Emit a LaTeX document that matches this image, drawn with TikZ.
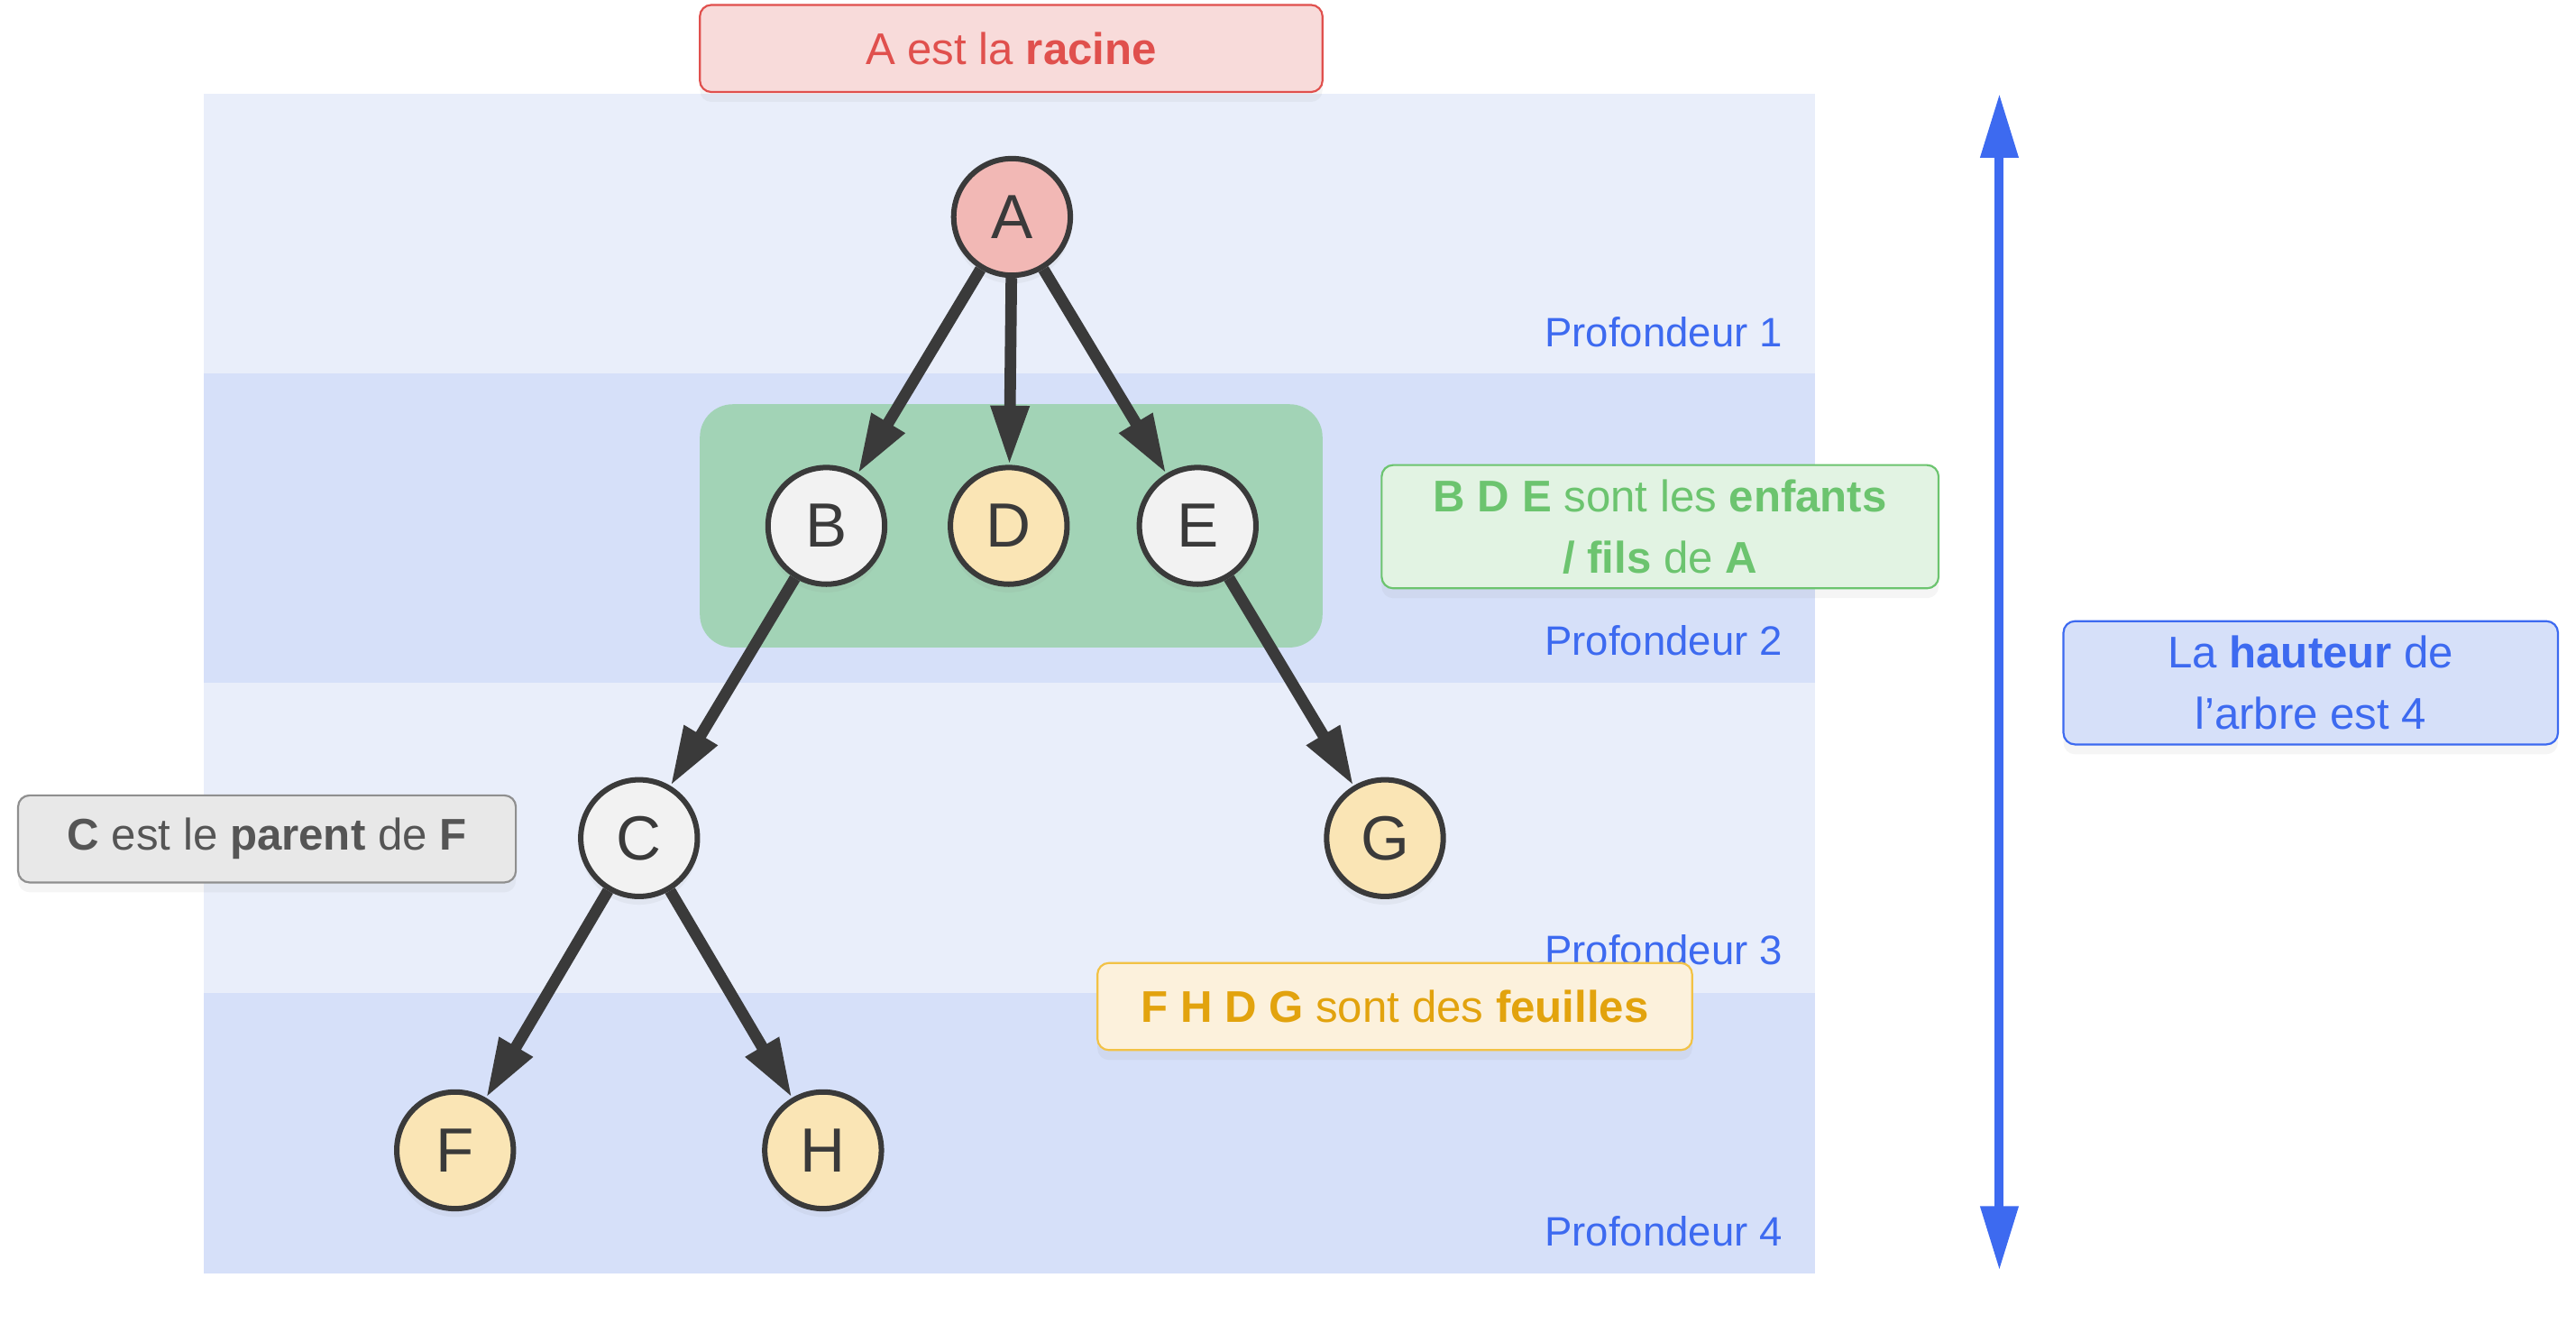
\documentclass[tikz,border=0pt]{standalone}
\usepackage{fontspec}
\setmainfont{Liberation Sans}
\usetikzlibrary{arrows.meta, shadows, positioning}
\definecolor{clair}{HTML}{E9EEFA}
\definecolor{fonce}{HTML}{D6E0F9}
\definecolor{trait}{HTML}{3A3A3A}
\definecolor{bleu}{HTML}{3D6AF0}
\definecolor{rrouge}{HTML}{E0504D}
\definecolor{rose}{HTML}{F8DBDA}
\definecolor{racinefill}{HTML}{F2B8B5}
\definecolor{blanc}{HTML}{F2F2F2}
\definecolor{jaune}{HTML}{FAE5B5}
\definecolor{vvert}{HTML}{6CC46F}
\definecolor{vertpale}{HTML}{E2F3E3}
\definecolor{groupe}{HTML}{A2D3B6}
\definecolor{gris}{HTML}{8F8F8F}
\definecolor{grispale}{HTML}{E8E8E8}
\definecolor{gristexte}{HTML}{555555}
\definecolor{orange}{HTML}{F2C245}
\definecolor{orangepale}{HTML}{FCF1DC}
\definecolor{orangetexte}{HTML}{E2A30E}
\newcommand\bande[3]{\fill[#3] (124,#1) rectangle (1105,#2);}
\newcommand\sommet[4]{\node[noeud, fill=#4] (#3) at (#1,#2) {#3};}
\tikzset{
	noeud/.style={circle, draw=trait, line width=3.3pt, minimum size=71pt, inner sep=0pt, text=trait, font=\fontsize{38}{44}\selectfont, drop shadow={opacity=0.08, shadow xshift=0pt, shadow yshift=-5pt}},
	fleche/.style={draw=trait, line width=7pt, -{Triangle[length=36pt, width=22pt]}},
	prof/.style={anchor=east, inner sep=0pt, text=bleu, font=\fontsize{25}{30}\selectfont},
	bulle/.style={rounded corners=7pt, line width=1.2pt, align=center, inner sep=0pt, font=\fontsize{27}{37}\selectfont, drop shadow={opacity=0.08, shadow xshift=0pt, shadow yshift=-6pt}}
}
\begin{document}
\begin{tikzpicture}[x=1pt, y=-1pt]
	\useasboundingbox (0,0) rectangle (1568,811);
	\bande{57}{227}{clair}
	\bande{227}{415.5}{fonce}
	\bande{415.5}{604}{clair}
	\bande{604}{775}{fonce}
	\node[prof] (p1) at (1085,202) {Profondeur 1};
	\node[prof] (p2) at (1085,390) {Profondeur 2};
	\node[prof] (p3) at (1085,578) {Profondeur 3};
	\node[prof] (p4) at (1085,749) {Profondeur 4};
	\fill[groupe, rounded corners=20pt] (426,246) rectangle (805,394);
	\sommet{616}{132}{A}{racinefill}
	\sommet{503}{320}{B}{blanc}
	\sommet{614}{320}{D}{jaune}
	\sommet{729}{320}{E}{blanc}
	\sommet{389}{510}{C}{blanc}
	\sommet{843}{510}{G}{jaune}
	\sommet{277}{700}{F}{jaune}
	\sommet{501}{700}{H}{jaune}
	\draw[fleche] (A) -- (B);
	\draw[fleche] (A) -- (D);
	\draw[fleche] (A) -- (E);
	\draw[fleche] (B) -- (C);
	\draw[fleche] (E) -- (G);
	\draw[fleche] (C) -- (F);
	\draw[fleche] (C) -- (H);
	\node[bulle, draw=rrouge, fill=rose, text=rrouge, minimum width=379pt, minimum height=53pt] (racine) at (615.5,29.5) {A est la \textbf{racine}};
	\node[bulle, draw=vvert, fill=vertpale, text=vvert, minimum width=339pt, minimum height=75pt] (enfants) at (1010.5,320.5) {\textbf{B D E} sont les \textbf{enfants}\\\textbf{/ fils} de \textbf{A}};
	\node[bulle, draw=gris, fill=grispale, text=gristexte, minimum width=303pt, minimum height=53pt] (parent) at (162.5,510.5) {\textbf{C} est le \textbf{parent} de \textbf{F}};
	\node[bulle, draw=orange, fill=orangepale, text=orangetexte, minimum width=362pt, minimum height=53pt] (feuilles) at (849,612.5) {\textbf{F H D G} sont des \textbf{feuilles}};
	\node[bulle, draw=bleu, fill=fonce, text=bleu, minimum width=301pt, minimum height=75pt] (hauteur) at (1406.5,415.5) {La \textbf{hauteur} de\\l’arbre est 4};
	\coordinate (haut) at (1217,57);
	\coordinate (bas) at (1217,773);
	\draw[bleu, line width=5.5pt, {Triangle[length=39pt, width=22pt]}-{Triangle[length=39pt, width=22pt]}] (bas) -- (haut);
\end{tikzpicture}
\end{document}
